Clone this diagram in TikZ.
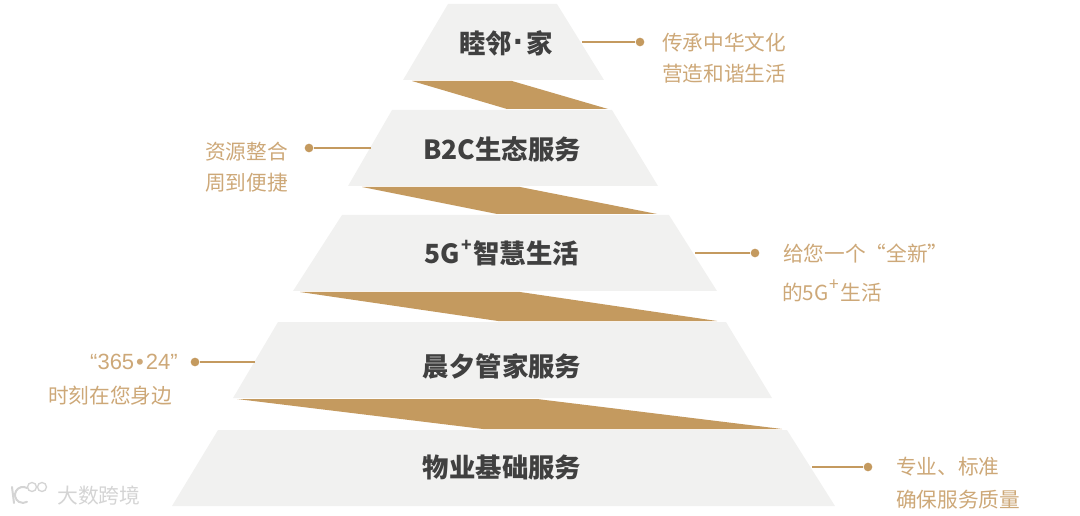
\documentclass[tikz,border=0pt]{standalone}
\usepackage{fontspec}
\setmainfont{Noto Sans CJK SC}
\newfontfamily\latfont{Liberation Sans}
\usepackage{xcolor}
\usepackage{tikz}
\usetikzlibrary{positioning,calc}
\definecolor{pygold}{HTML}{C49A5F}
\definecolor{pygrey}{HTML}{F1F1F0}
\definecolor{pydark}{HTML}{404040}
\definecolor{pytext}{HTML}{CDA878}
\definecolor{pymark}{HTML}{D4D4D4}
\newcommand{\plusup}[1]{\kern1pt\raisebox{0.48em}{\fontsize{#1}{#1}\selectfont +}\kern1pt}
\tikzset{
  tier/.style={fill=pygrey, draw=none},
  band/.style={fill=pygold, draw=none},
  head/.style={font=\fontsize{19.8}{24}\selectfont\bfseries, text=pydark, inner sep=0pt},
  note/.style={font=\fontsize{15.5}{26}\selectfont, text=pytext, inner sep=0pt},
  lead/.style={draw=pygold, line width=0.9pt},
  dotnode/.style={circle, fill=pygold, inner sep=0pt, minimum size=6.5pt},
  wmark/.style={font=\fontsize{15.6}{18}\selectfont, text=pymark, inner sep=0pt},
  wline/.style={draw=pymark, line width=1.5pt, line cap=round},
}
\begin{document}
\begin{tikzpicture}[x=0.75pt,y=-0.75pt]
  \useasboundingbox (0,0) rectangle (1080,516);

  % tiers, top to bottom
  \fill[tier] (448,4) -- (557,4) -- (604,80) -- (403,80) -- cycle;
  \fill[tier] (392,110) -- (612,110) -- (658,186) -- (348,186) -- cycle;
  \fill[tier] (342,215) -- (669,215) -- (717,291) -- (293,291) -- cycle;
  \fill[tier] (278,322) -- (726,322) -- (772,398) -- (233,398) -- cycle;
  \fill[tier] (218,430) -- (787,430) -- (835,506) -- (172,506) -- cycle;

  % gold bands
  \fill[band] (412,81) -- (512,81) -- (608,109) -- (507,109) -- cycle;
  \fill[band] (362,187) -- (520,187) -- (657,214) -- (497,214) -- cycle;
  \fill[band] (300,292) -- (520,292) -- (717,321) -- (498,321) -- cycle;
  \fill[band] (237,399) -- (537,399) -- (782,429) -- (483,429) -- cycle;

  \node[head] (t1) at (506,43) {睦邻{\kern1pt\latfont\bfseries\fontsize{26}{26}\selectfont ·\kern1pt}家};
  \node[head] (t2) at (502,149) {B2C生态服务};
  \node[head] (t3) at (502,253) {5G\plusup{13}智慧生活};
  \node[head] (t4) at (502,366) {晨夕管家服务};
  \node[head] (t5) at (502,467) {物业基础服务};

  \node[dotnode] (d1) at (640,42) {};
  \node[dotnode] (d2) at (309,148) {};
  \node[dotnode] (d3) at (755,253) {};
  \node[dotnode] (d4) at (195,362) {};
  \node[dotnode] (d5) at (868,467) {};

  \coordinate (e1) at (582,42);
  \coordinate (e2) at (371,148);
  \coordinate (e3) at (695,253);
  \coordinate (e4) at (255,362);
  \coordinate (e5) at (812,467);
  \draw[lead] (e1) -- (d1);
  \draw[lead] (e2) -- (d2);
  \draw[lead] (e3) -- (d3);
  \draw[lead] (e4) -- (d4);
  \draw[lead] (e5) -- (d5);

  \node[note, anchor=west] (n1a) at (662,43) {传承中华文化};
  \node[note, anchor=west] (n1b) at (662,74) {营造和谐生活};
  \node[note, anchor=west] (n2a) at (205,152) {资源整合};
  \node[note, anchor=west] (n2b) at (205,183) {周到便捷};
  \node[note, anchor=west] (n3a) at (783,254) {给您一个“全新”};
  \node[note, anchor=west] (n3b) at (782,291) {的5G\plusup{13}生活};
  \node[note, anchor=east] (n4a) at (178,362) {{\latfont\fontsize{16.5}{20}\selectfont “365\kern1.5pt•\kern1.5pt24”}};
  \node[note, anchor=west] (n4b) at (48,396) {时刻在您身边};
  \node[note, anchor=west] (n5a) at (896,467) {专业、标准};
  \node[note, anchor=west] (n5b) at (896,500) {确保服务质量};

  % watermark
  \node[wmark, anchor=west] (wm) at (57,496) {大数跨境};
  \draw[wline] (12,487) -- (14,503);
  \draw[wline] (27,488) arc[start angle=300, end angle=60, radius=8];
  \draw[pymark, line width=1pt] (32,487) circle[radius=4.5];
  \draw[pymark, line width=1pt] (42,487) circle[radius=4.5];
\end{tikzpicture}
\end{document}
